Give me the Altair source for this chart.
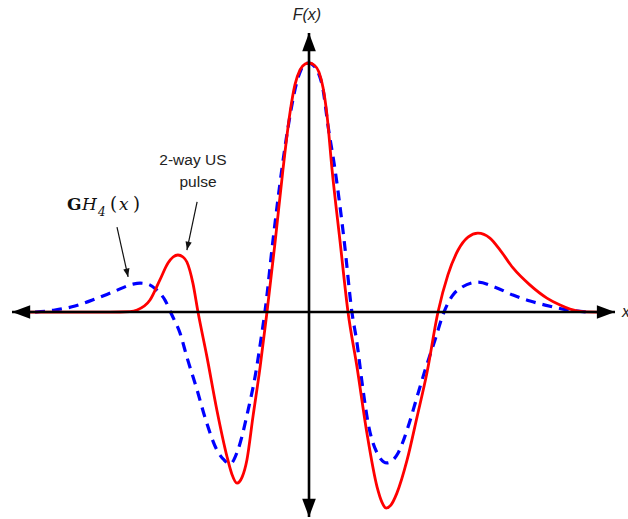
import altair as alt
import pandas as pd

# ---- data (x in arbitrary units, F normalised so the main peak = 1) ----
red_x = [-9.30, -6.63, -5.97, -5.73, -5.30, -4.97, -4.70, -4.53, -4.37, -4.20, -4.07, -3.87, -3.70,
         -3.40, -3.07, -2.73, -2.57, -2.40, -2.23, -2.07, -1.87, -1.63, -1.40, -1.13, -0.87, -0.63,
         -0.47, -0.30, -0.13, 0.00, 0.17, 0.33, 0.47, 0.60, 0.77, 1.03, 1.30, 1.60, 1.93, 2.27, 2.43,
         2.57, 2.73, 2.93, 3.27, 3.60, 3.93, 4.30, 4.63, 4.97, 5.30, 5.63, 6.03, 6.37, 6.80, 7.37,
         7.93, 8.37, 8.70, 9.13, 9.80]
red_f = [0.000, 0.000, 0.002, 0.008, 0.048, 0.129, 0.197, 0.221, 0.229, 0.221, 0.201, 0.116, 0.000,
         -0.181, -0.394, -0.582, -0.651, -0.687, -0.663, -0.594, -0.422, -0.221, 0.000, 0.281, 0.570, 0.803,
         0.912, 0.972, 0.996, 1.000, 0.992, 0.964, 0.900, 0.791, 0.570, 0.289, 0.000, -0.221, -0.486, -0.703, -0.763,
         -0.787, -0.775, -0.727, -0.594, -0.422, -0.245, 0.000, 0.149, 0.249, 0.301, 0.317, 0.297, 0.249, 0.177, 0.108,
         0.056, 0.028, 0.012, 0.002, 0.000]

blue_x = [-9.13, -8.47, -7.80, -7.13, -6.47, -5.87, -5.63, -5.37, -5.07, -4.80, -4.57, -4.30, -4.07,
          -3.73, -3.47, -3.07, -2.83, -2.63, -2.37, -2.03, -1.80, -1.57, -1.47, -1.20, -0.90, -0.63,
          -0.43, -0.27, -0.13, 0.00, 0.13, 0.30, 0.47, 0.63, 0.87, 1.17, 1.43, 1.60, 1.77, 1.97, 2.27,
          2.60, 2.97, 3.30, 3.60, 3.87, 4.20, 4.50, 4.77, 5.10, 5.63, 6.20, 6.80, 7.37, 7.87, 8.47, 9.27]
blue_f = [0.000, 0.008, 0.024, 0.052, 0.084, 0.112, 0.116, 0.112, 0.088, 0.048, -0.012, -0.084, -0.181,
          -0.313, -0.422, -0.554, -0.594, -0.610, -0.554, -0.394, -0.261, -0.084, 0.000, 0.289, 0.578, 0.791,
          0.912, 0.972, 0.996, 1.000, 0.992, 0.964, 0.892, 0.751, 0.570, 0.289, 0.000, -0.124, -0.285, -0.446, -0.566,
          -0.606, -0.566, -0.462, -0.341, -0.233, -0.112, 0.000, 0.064, 0.100, 0.120, 0.100, 0.068, 0.044, 0.028, 0.012, 0.000]

# axes (arrow tips)
axis_x_ends = [-9.90, 10.20]
axis_y_ends = [-0.823, 1.120]

# annotation arrows: start -> tip
arrow_x0 = [-3.73, -6.40]
arrow_f0 = [0.442, 0.341]
arrow_x1 = [-4.07, -6.03]
arrow_f1 = [0.249, 0.141]
arrow_ang = [102, 78]

X_DOMAIN = [-10.3, 10.633]
Y_DOMAIN = [-0.831, 1.253]

xs = alt.Scale(domain=X_DOMAIN, nice=False, zero=False)
ys = alt.Scale(domain=Y_DOMAIN, nice=False, zero=False)


def X(f="x"):
    return alt.X(f"{f}:Q", scale=xs, axis=None)


def Y(f="y"):
    return alt.Y(f"{f}:Q", scale=ys, axis=None)


red_df = pd.DataFrame({"x": red_x, "y": red_f})
blue_df = pd.DataFrame({"x": blue_x, "y": blue_f})

blue = alt.Chart(blue_df).mark_line(
    color="#0000ff", strokeWidth=3.2, strokeDash=[10, 7], interpolate="monotone", strokeCap="butt"
).encode(x=X(), y=Y())

red = alt.Chart(red_df).mark_line(
    color="#ff0000", strokeWidth=2.8, interpolate="monotone"
).encode(x=X(), y=Y())

axes_df = pd.DataFrame({
    "x": [axis_x_ends[0], 0.0],
    "x2": [axis_x_ends[1], 0.0],
    "y": [0.0, axis_y_ends[0]],
    "y2": [0.0, axis_y_ends[1]],
})
axes = alt.Chart(axes_df).mark_rule(color="black", strokeWidth=2.6).encode(
    x=X(), x2="x2:Q", y=Y(), y2="y2:Q"
)

head_shape = "M0,0 L-2,-0.75 L-2,0.75 Z"
heads_df = pd.DataFrame({
    "x": [axis_x_ends[0], axis_x_ends[1], 0.0, 0.0],
    "y": [0.0, 0.0, axis_y_ends[1], axis_y_ends[0]],
    "a": [180, 0, 270, 90],
})
heads = alt.Chart(heads_df).mark_point(
    shape=head_shape, filled=True, color="black", opacity=1, size=330, strokeWidth=0
).encode(x=X(), y=Y(), angle=alt.Angle("a:Q", scale=None))

arr_df = pd.DataFrame({"x": arrow_x0, "x2": arrow_x1, "y": arrow_f0, "y2": arrow_f1, "a": arrow_ang})
arr_lines = alt.Chart(arr_df).mark_rule(color="#111", strokeWidth=1.2).encode(
    x=X(), x2="x2:Q", y=Y(), y2="y2:Q"
)
arr_heads = alt.Chart(arr_df).mark_point(
    shape=head_shape, filled=True, color="#111", opacity=1, size=70, strokeWidth=0
).encode(x=X("x2"), y=Y("y2"), angle=alt.Angle("a:Q", scale=None))

# ---- labels ----
sans_df = pd.DataFrame({
    "x": [-3.87, -3.70],
    "y": [0.610, 0.522],
    "t": ["2-way US", "pulse"],
})
sans = alt.Chart(sans_df).mark_text(
    font="Liberation Sans", fontSize=15.5, color="#222", align="center", baseline="middle"
).encode(x=X(), y=Y(), text="t:N")

fx_df = pd.DataFrame({"x": [-0.07], "y": [1.193], "t": ["F(x)"]})
fx = alt.Chart(fx_df).mark_text(
    font="Liberation Sans", fontSize=16, fontStyle="italic", color="#222", align="center", baseline="middle"
).encode(x=X(), y=Y(), text="t:N")

xl_df = pd.DataFrame({"x": [10.43], "y": [0.0], "t": ["x"]})
xl = alt.Chart(xl_df).mark_text(
    font="Liberation Sans", fontSize=16, fontStyle="italic", color="#222", align="left", baseline="middle"
).encode(x=X(), y=Y(), text="t:N")

# GH4(x) label pieces
g_df = pd.DataFrame({"x": [-8.07], "y": [0.430], "t": ["G"]})
g = alt.Chart(g_df).mark_text(
    font="DejaVu Serif", fontSize=17, fontWeight="bold", color="#111", align="left", baseline="middle"
).encode(x=X(), y=Y(), text="t:N")

hi_df = pd.DataFrame({"x": [-7.57, -6.33], "y": [0.430, 0.430], "t": ["H", "x"]})
hi = alt.Chart(hi_df).mark_text(
    font="DejaVu Serif", fontSize=17, fontStyle="italic", color="#111", align="left", baseline="middle"
).encode(x=X(), y=Y(), text="t:N")

sub_df = pd.DataFrame({"x": [-7.03], "y": [0.400], "t": ["4"]})
sub = alt.Chart(sub_df).mark_text(
    font="DejaVu Serif", fontSize=12, fontStyle="italic", color="#111", align="left", baseline="middle"
).encode(x=X(), y=Y(), text="t:N")

par_df = pd.DataFrame({"x": [-6.63, -5.87], "y": [0.430, 0.430], "t": ["(", ")"]})
par = alt.Chart(par_df).mark_text(
    font="DejaVu Serif", fontSize=18, color="#111", align="left", baseline="middle"
).encode(x=X(), y=Y(), text="t:N")

chart = alt.layer(
    blue, red, axes, heads, arr_lines, arr_heads, sans, fx, xl, g, hi, sub, par
).properties(
    width=628, height=519, padding=0, autosize=alt.AutoSizeParams(type="none"), background="white"
).configure_view(stroke=None)

chart.save("out.html", embed_options={"renderer": "svg", "actions": False})
